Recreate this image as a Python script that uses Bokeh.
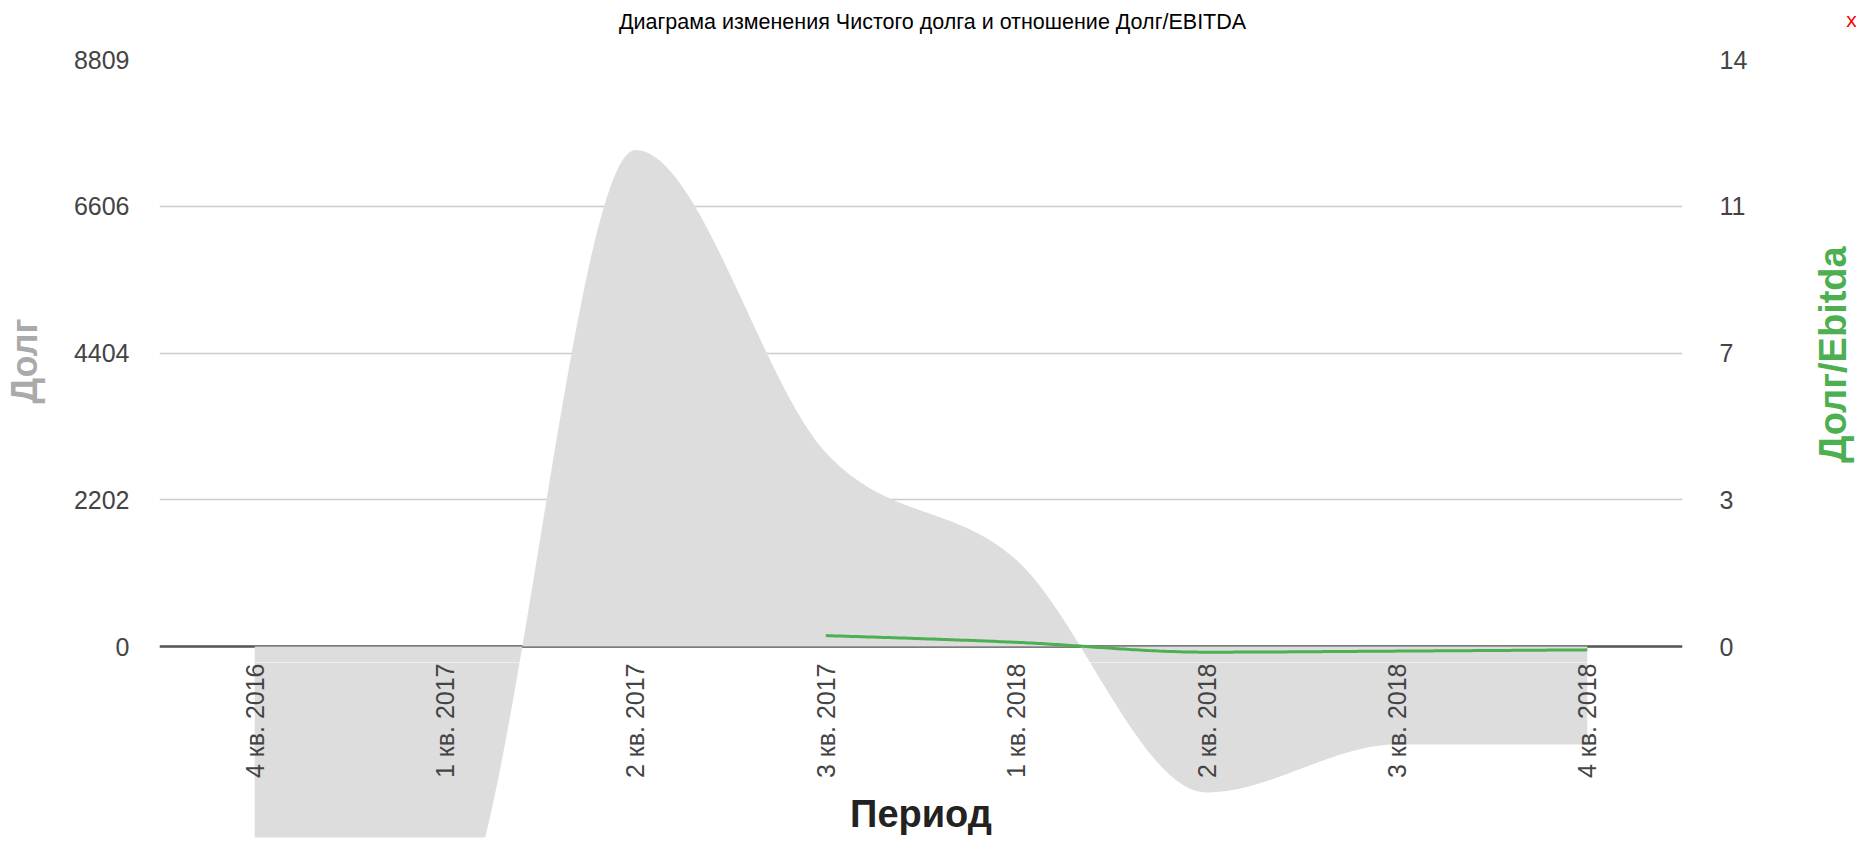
import numpy as np
from bokeh.plotting import figure
from bokeh.layouts import column, row
from bokeh.models import Range1d, LinearAxis, FixedTicker, Span
from bokeh.core.properties import value
from bokeh.embed import file_html
from bokeh.resources import INLINE

# ---------------- data ----------------
title_text = "Диаграма изменения Чистого долга и отношение Долг/EBITDA"
periods = ["4 кв. 2016", "1 кв. 2017", "2 кв. 2017", "3 кв. 2017",
           "1 кв. 2018", "2 кв. 2018", "3 кв. 2018", "4 кв. 2018"]
debt = [-4200, -4200, 7450, 2910, 1300, -2190, -1470, -1470]
debt_ebitda = [None, None, None, 0.26, 0.10, -0.135, -0.11, -0.08]

left_ticks = [0, 2202.25, 4404.5, 6606.75, 8809]
left_tick_labels = ["0", "2202", "4404", "6606", "8809"]
right_ticks = [0, 3.5, 7, 10.5, 14]
right_tick_labels = ["0", "3", "7", "11", "14"]

FONT = "Liberation Sans"


def monotone(xs, ys, n=60):
    """Monotone cubic (d3 curveMonotoneX style) smoothing of a series."""
    xs = np.asarray(xs, float)
    ys = np.asarray(ys, float)
    m = len(xs)
    h = np.diff(xs)
    s = np.diff(ys) / h
    t = np.zeros(m)
    for i in range(1, m - 1):
        p_ = (s[i - 1] * h[i] + s[i] * h[i - 1]) / (h[i - 1] + h[i])
        t[i] = (np.sign(s[i - 1]) + np.sign(s[i])) * min(abs(s[i - 1]), abs(s[i]), 0.5 * abs(p_))
    if m > 2:
        t[0] = (3 * s[0] - t[1]) / 2
        t[-1] = (3 * s[-1] - t[-2]) / 2
    else:
        t[0] = t[-1] = s[0]
    ox, oy = [], []
    for i in range(m - 1):
        u = np.linspace(0, 1, n, endpoint=(i == m - 2))
        h00 = 2 * u**3 - 3 * u**2 + 1
        h10 = u**3 - 2 * u**2 + u
        h01 = -2 * u**3 + 3 * u**2
        h11 = u**3 - u**2
        ox.extend(xs[i] + u * h[i])
        oy.extend(h00 * ys[i] + h10 * h[i] * t[i] + h01 * ys[i + 1] + h11 * h[i] * t[i + 1])
    return np.array(ox), np.array(oy)


idx = list(range(len(periods)))
ax_x, ax_y = monotone(idx, debt)
ge_idx = [i for i, v in zip(idx, debt_ebitda) if v is not None]
ge_val = [v for v in debt_ebitda if v is not None]
gl_x, gl_y = monotone(ge_idx, ge_val)

# ---------------- geometry (pixels) ----------------
W = 1856
HEAD_H = 44
FRAME_L, MAIN_W, RIGHT_W = 151, 1792, 64
TOP_BORDER, TOP_FRAME_H = 15, 603
BOT_FRAME_H, BOT_BORDER = 175, 8

y_top = left_ticks[-1]
px_unit = y_top / 587.0
y_split = -16 * px_unit          # boundary between the two stacked frames
y_bottom = -191 * px_unit        # lower clip of the drawing
r_top = right_ticks[-1]

x_range = Range1d(-0.5, len(periods) - 0.5)


def base_fig(width, height, y_range, **kw):
    f = figure(width=width, height=height, x_range=kw.pop("x_range", x_range), y_range=y_range,
               output_backend="svg", toolbar_location=None, **kw)
    f.outline_line_color = None
    f.background_fill_color = "white"
    f.border_fill_color = "white"
    return f


# ---- header (title + close mark) ----
head = base_fig(W, HEAD_H, Range1d(0, HEAD_H), x_range=Range1d(0, W),
                x_axis_type=None, y_axis_type=None,
                min_border_left=0, min_border_right=0, min_border_top=0, min_border_bottom=0)
head.xgrid.visible = False
head.ygrid.visible = False
head.text(x=[932], y=[HEAD_H - 21], text=[title_text], text_font=value(FONT),
          text_font_size="21.5px", text_color="#000000",
          text_align="center", text_baseline="middle")
head.text(x=[1851], y=[HEAD_H - 19], text=["x"], text_font=value(FONT),
          text_font_size="21px", text_color="red",
          text_align="center", text_baseline="middle")

# ---- upper part of the chart ----
top = base_fig(MAIN_W, TOP_BORDER + TOP_FRAME_H, Range1d(y_split, y_top),
               x_axis_type=None,
               min_border_left=FRAME_L, min_border_right=MAIN_W - FRAME_L - 1531,
               min_border_top=TOP_BORDER, min_border_bottom=0)

ya = top.yaxis[0]
ya.ticker = FixedTicker(ticks=left_ticks)
ya.major_label_overrides = {t: l for t, l in zip(left_ticks, left_tick_labels)}
ya.major_tick_line_color = None
ya.minor_tick_line_color = None
ya.axis_line_color = None
ya.major_label_standoff = 24
ya.major_label_text_font = FONT
ya.major_label_text_font_size = "25px"
ya.major_label_text_color = "#444444"
ya.axis_label = "Долг"
ya.axis_label_text_font = FONT
ya.axis_label_text_font_size = "36px"
ya.axis_label_text_font_style = "bold"
ya.axis_label_text_color = "#aaaaaa"
ya.axis_label_standoff = 26

top.extra_y_ranges = {"ratio": Range1d(y_split / y_top * r_top, r_top)}
ra = LinearAxis(y_range_name="ratio")
ra.ticker = FixedTicker(ticks=right_ticks)
ra.major_label_overrides = {t: l for t, l in zip(right_ticks, right_tick_labels)}
ra.major_tick_line_color = None
ra.minor_tick_line_color = None
ra.axis_line_color = None
ra.major_label_standoff = 31
ra.major_label_text_font = FONT
ra.major_label_text_font_size = "25px"
ra.major_label_text_color = "#444444"
top.add_layout(ra, "right")

top.xgrid.visible = False
top.ygrid.ticker = FixedTicker(ticks=left_ticks)
top.ygrid.grid_line_color = "#cccccc"
top.ygrid.grid_line_width = 1.5

top.add_layout(Span(location=0, dimension="width", line_color="#555555",
                    line_width=2.5, level="underlay"))
top.varea(x=ax_x, y1=np.zeros_like(ax_y), y2=ax_y, fill_color="#dddddd")
top.line(gl_x, gl_y, y_range_name="ratio", line_color="#4caf50", line_width=3)

# ---- lower part (negative overflow + period labels) ----
bot = base_fig(MAIN_W, BOT_FRAME_H + BOT_BORDER, Range1d(y_bottom, y_split),
               y_axis_type=None,
               min_border_left=FRAME_L, min_border_right=MAIN_W - FRAME_L - 1531,
               min_border_top=0, min_border_bottom=BOT_BORDER)
bot.xgrid.visible = False
bot.ygrid.visible = False
xa = bot.xaxis[0]
xa.ticker = FixedTicker(ticks=idx)
xa.major_label_overrides = {i: lab for i, lab in zip(idx, periods)}
xa.fixed_location = y_split
xa.major_label_orientation = np.pi / 2
xa.major_tick_line_color = None
xa.minor_tick_line_color = None
xa.major_tick_out = 0
xa.major_tick_in = 0
xa.axis_line_color = None
xa.major_label_standoff = 1
xa.major_label_text_font = FONT
xa.major_label_text_font_size = "25px"
xa.major_label_text_color = "#444444"
xa.axis_label = "Период"
xa.axis_label_text_font = FONT
xa.axis_label_text_font_size = "38px"
xa.axis_label_text_font_style = "bold"
xa.axis_label_text_color = "#222222"
xa.axis_label_standoff = 12
bot.varea(x=ax_x, y1=np.zeros_like(ax_y), y2=ax_y, fill_color="#dddddd", level="underlay")

# ---- right-hand axis title ----
RH = TOP_BORDER + TOP_FRAME_H + BOT_FRAME_H + BOT_BORDER
rt = base_fig(RIGHT_W, RH, Range1d(0, RH), x_range=Range1d(0, RIGHT_W),
              x_axis_type=None, y_axis_type=None,
              min_border_left=0, min_border_right=0, min_border_top=0, min_border_bottom=0)
rt.xgrid.visible = False
rt.ygrid.visible = False
rt.text(x=[40], y=[RH - 310], text=["Долг/Ebitda"], angle=np.pi / 2,
        text_font=value(FONT), text_font_size="38px", text_font_style="bold",
        text_color="#4caf50", text_align="center", text_baseline="middle")

layout = column(head, row(column(top, bot, spacing=0), rt, spacing=0), spacing=0)

open("out.html", "w").write(file_html(layout, INLINE))
